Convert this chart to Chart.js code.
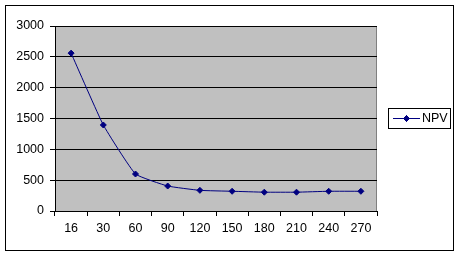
<!DOCTYPE html>
<html>
<head>
<meta charset="utf-8">
<script src="https://cdn.jsdelivr.net/npm/chart.js@4/dist/chart.umd.min.js"></script>
<style>
    html, body { margin: 0; padding: 0; background: #fff; }
    #wrap { width: 460px; height: 256px; }
</style>
</head>
<body>
<div id="wrap"><canvas id="npv-chart" width="460" height="256"></canvas></div>
<script>
const categories = ['16', '30', '60', '90', '120', '150', '180', '210', '240', '270'];
const npvValues = [2560, 1395, 600, 405, 335, 320, 305, 305, 320, 320];
const yTickValues = [0, 500, 1000, 1500, 2000, 2500, 3000];
const seriesLabel = 'NPV';

const navy = '#000080';
const fontSpec = { family: '"Liberation Sans", Arial, sans-serif', size: 12.5 };

// plot background, right edge and the outer chart frame
const framePlugin = {
    id: 'frame',
    beforeDraw(chart) {
        const { ctx, chartArea: a } = chart;
        ctx.save();
        ctx.fillStyle = '#fff';
        ctx.fillRect(0, 0, chart.width, chart.height);
        ctx.fillStyle = '#c0c0c0';
        ctx.fillRect(a.left, a.top, a.right - a.left, a.bottom - a.top);
        ctx.strokeStyle = '#808080';
        ctx.lineWidth = 1;
        ctx.beginPath();
        ctx.moveTo(Math.round(a.right) - 0.5, a.top);
        ctx.lineTo(Math.round(a.right) - 0.5, a.bottom);
        ctx.stroke();
        ctx.strokeStyle = '#000';
        ctx.strokeRect(5.5, 5.5, 448, 245);
        ctx.restore();
    }
};

// boxed legend on the right, like the spreadsheet one
const boxLegendPlugin = {
    id: 'boxLegend',
    afterDraw(chart) {
        const { ctx } = chart;
        const ds = chart.data.datasets[0];
        const box = { x: 388.5, y: 108.5, w: 62, h: 20 };
        const cy = box.y + box.h / 2;
        ctx.save();
        ctx.strokeStyle = '#000';
        ctx.lineWidth = 1;
        ctx.strokeRect(box.x, box.y, box.w, box.h);
        ctx.strokeStyle = ds.borderColor;
        ctx.beginPath();
        ctx.moveTo(393, cy);
        ctx.lineTo(420, cy);
        ctx.stroke();
        Chart.helpers.drawPoint(ctx, {
            pointStyle: 'rectRot',
            radius: 3,
            borderWidth: 1
        }, 406.5, cy);
        ctx.fillStyle = ds.backgroundColor;
        ctx.fill();
        ctx.stroke();
        ctx.fillStyle = '#000';
        ctx.font = `${fontSpec.size}px ${fontSpec.family}`;
        ctx.textBaseline = 'middle';
        ctx.fillText(ds.label, 422, cy + 0.5);
        ctx.restore();
    }
};

new Chart(document.getElementById('npv-chart'), {
    type: 'line',
    data: {
        labels: categories,
        datasets: [{
            label: seriesLabel,
            data: npvValues,
            borderColor: navy,
            backgroundColor: navy,
            borderWidth: 1,
            tension: 0.12,
            pointStyle: 'rectRot',
            pointRadius: 3,
            pointBorderWidth: 1,
            pointBackgroundColor: navy,
            pointBorderColor: navy
        }]
    },
    options: {
        responsive: false,
        animation: false,
        events: [],
        layout: { padding: { left: 0, top: 26, right: 83, bottom: 0 } },
        plugins: {
            legend: { display: false },
            tooltip: { enabled: false }
        },
        scales: {
            x: {
                offset: true,
                afterFit: (scale) => { scale.height = 45; },
                grid: {
                    offset: true,
                    drawOnChartArea: false,
                    drawTicks: true,
                    tickLength: 5,
                    color: '#000'
                },
                border: { color: '#000', width: 1 },
                ticks: {
                    color: '#000',
                    font: fontSpec,
                    padding: 5,
                    maxRotation: 0,
                    autoSkip: false
                }
            },
            y: {
                min: 0,
                max: 3000,
                afterFit: (scale) => { scale.width = 55; },
                afterBuildTicks: (scale) => {
                    scale.ticks = yTickValues.map((v) => ({ value: v }));
                },
                grid: {
                    color: '#000',
                    tickLength: 5,
                    drawTicks: true
                },
                border: { color: '#000', width: 1 },
                ticks: {
                    color: '#000',
                    font: fontSpec,
                    padding: 6,
                    callback: (value) => String(value)
                }
            }
        }
    },
    plugins: [framePlugin, boxLegendPlugin]
});
</script>
</body>
</html>
